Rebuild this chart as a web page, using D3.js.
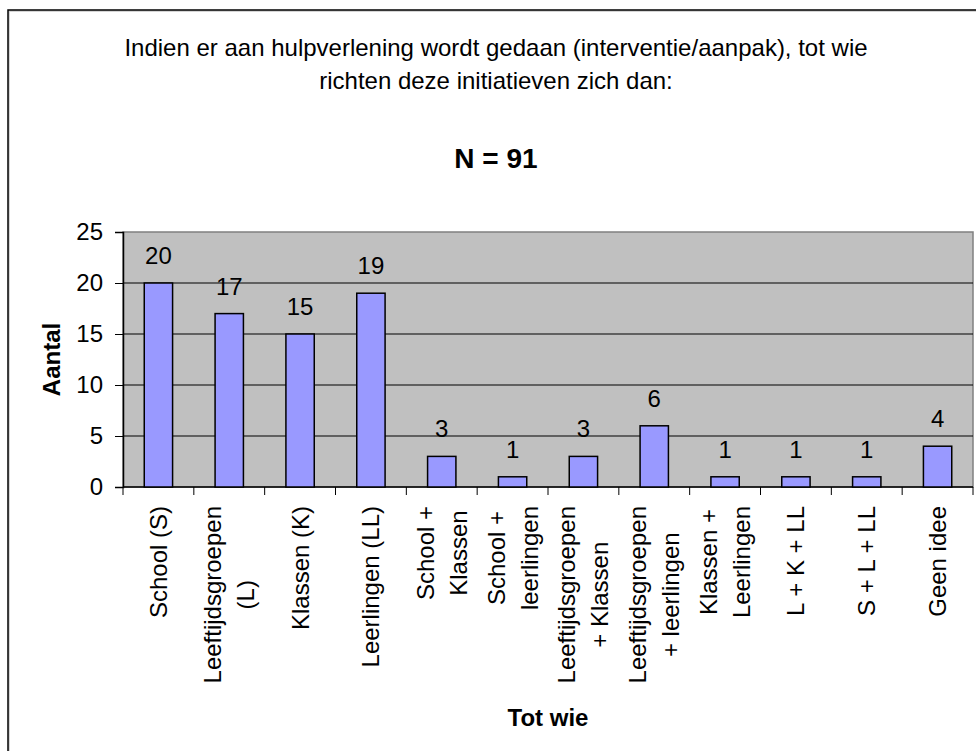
<!DOCTYPE html>
<html>
<head>
<meta charset="utf-8">
<script src="https://cdn.jsdelivr.net/npm/d3@7"></script>
<style>
  body { margin: 0; background: #fff; }
  text { font-family: Arial, "Liberation Sans", sans-serif; }
</style>
</head>
<body>
<script>
// categorieen (regels zoals in de as-labels)
const categories = [
  ["School (S)"],
  ["Leeftijdsgroepen", "(L)"],
  ["Klassen (K)"],
  ["Leerlingen (LL)"],
  ["School +", "Klassen"],
  ["School +", "leerlingen"],
  ["Leeftijdsgroepen", "+ Klassen"],
  ["Leeftijdsgroepen", "+ leerlingen"],
  ["Klassen +", "Leerlingen"],
  ["L + K + LL"],
  ["S + L + LL"],
  ["Geen idee"]
];
const values = [20, 17, 15, 19, 3, 1, 3, 6, 1, 1, 1, 4];
const yTicks = [0, 5, 10, 15, 20, 25];
const titleLines = ["Indien er aan hulpverlening wordt gedaan (interventie/aanpak), tot wie",
                    "richten deze initiatieven zich dan:"];
const subTitle = "N = 91";
const yTitle = "Aantal";
const xTitle = "Tot wie";

const W = 976, H = 751;
const plot = {left: 123, right: 973, top: 232, bottom: 487};
const keys = categories.map(c => c.join(" "));

const svg = d3.select("body").append("svg")
    .attr("width", W)
    .attr("height", H);

// kader rond de grafiek (loopt buiten beeld door)
svg.append("rect")
    .attr("x", 9).attr("y", 11)
    .attr("width", 1000).attr("height", 800)
    .attr("fill", "none").attr("stroke", "#c8c8c8").attr("stroke-width", 1.5);
svg.append("rect")
    .attr("x", 8).attr("y", 10)
    .attr("width", 1000).attr("height", 800)
    .attr("fill", "none").attr("stroke", "#000").attr("stroke-width", 1.5);

const x = d3.scaleBand().domain(keys).range([plot.left, plot.right]).padding(0);
const y = d3.scaleLinear().domain([0, 25]).range([plot.bottom, plot.top]);

// plotgebied
svg.append("rect")
    .attr("x", plot.left).attr("y", plot.top)
    .attr("width", plot.right - plot.left).attr("height", plot.bottom - plot.top)
    .attr("fill", "#c0c0c0").attr("stroke", "#808080").attr("stroke-width", 1.5);

// rasterlijnen
svg.append("g")
  .selectAll("line")
  .data(yTicks.filter(t => t > 0 && t < 25))
  .join("line")
    .attr("x1", plot.left).attr("x2", plot.right)
    .attr("y1", d => y(d)).attr("y2", d => y(d))
    .attr("stroke", "#000").attr("stroke-width", 1);

// y-as
const yAxis = svg.append("g")
    .attr("transform", `translate(${plot.left},0)`)
    .call(d3.axisLeft(y).tickValues(yTicks).tickSize(8).tickPadding(12));
yAxis.select(".domain").attr("stroke", "#000").attr("stroke-width", 1.5);
yAxis.selectAll(".tick line").attr("stroke", "#000");
yAxis.selectAll(".tick text")
    .attr("font-size", 24).attr("font-family", "Arial, 'Liberation Sans', sans-serif")
    .attr("fill", "#000");

// x-as lijn en streepjes op bandgrenzen
svg.append("line")
    .attr("x1", plot.left).attr("x2", plot.right)
    .attr("y1", plot.bottom).attr("y2", plot.bottom)
    .attr("stroke", "#000").attr("stroke-width", 1.5);
svg.append("g")
  .selectAll("line")
  .data(keys.map(k => x(k)).concat([plot.right]))
  .join("line")
    .attr("x1", d => d).attr("x2", d => d)
    .attr("y1", plot.bottom).attr("y2", plot.bottom + 8)
    .attr("stroke", "#000").attr("stroke-width", 1);

// staven
const barW = x.bandwidth() * 0.4;
svg.append("g")
  .selectAll("rect")
  .data(values)
  .join("rect")
    .attr("x", (d, i) => x(keys[i]) + x.bandwidth() / 2 - barW / 2)
    .attr("y", d => y(d))
    .attr("width", barW)
    .attr("height", d => y(0) - y(d))
    .attr("fill", "#9999ff")
    .attr("stroke", "#000")
    .attr("stroke-width", 1.5);

// waardelabels
svg.append("g")
  .selectAll("text")
  .data(values)
  .join("text")
    .attr("x", (d, i) => x(keys[i]) + x.bandwidth() / 2)
    .attr("y", d => y(d) - 19)
    .attr("text-anchor", "middle")
    .attr("font-size", 24)
    .text(d => d);

// categorielabels, gedraaid, regels gecentreerd
const lineH = 33;
const labelTop = 506;
const lab = svg.append("g")
  .selectAll("g")
  .data(categories)
  .join("g");
lab.each(function (lines, i) {
    const g = d3.select(this);
    const t = g.selectAll("text")
      .data(lines)
      .join("text")
        .attr("text-anchor", "middle")
        .attr("dominant-baseline", "central")
        .attr("font-size", 24)
        .attr("y", (d, j) => (j - (lines.length - 1) / 2) * lineH)
        .text(d => d);
    let maxLen = 0;
    t.each(function () { maxLen = Math.max(maxLen, this.getComputedTextLength()); });
    const cx = x(keys[i]) + x.bandwidth() / 2;
    g.attr("transform", `translate(${cx},${labelTop + maxLen / 2}) rotate(-90)`);
});

// titels
svg.append("g")
  .selectAll("text")
  .data(titleLines)
  .join("text")
    .attr("x", 496)
    .attr("y", (d, i) => 56 + i * 33)
    .attr("text-anchor", "middle")
    .attr("font-size", 24)
    .text(d => d);

svg.append("text")
    .attr("x", 496).attr("y", 168)
    .attr("text-anchor", "middle")
    .attr("font-size", 28)
    .attr("font-weight", "bold")
    .text(subTitle);

svg.append("text")
    .attr("transform", `translate(60,${(plot.top + plot.bottom) / 2}) rotate(-90)`)
    .attr("text-anchor", "middle")
    .attr("font-size", 24)
    .attr("font-weight", "bold")
    .text(yTitle);

svg.append("text")
    .attr("x", (plot.left + plot.right) / 2).attr("y", 726)
    .attr("text-anchor", "middle")
    .attr("font-size", 24)
    .attr("font-weight", "bold")
    .text(xTitle);
</script>
</body>
</html>
